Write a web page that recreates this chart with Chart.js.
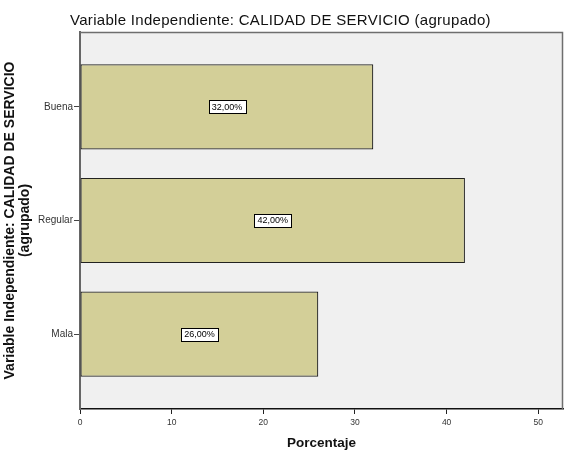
<!DOCTYPE html>
<html>
<head>
<meta charset="utf-8">
<script src="https://cdn.jsdelivr.net/npm/chart.js@4/dist/chart.umd.min.js"></script>
<style>
html,body{margin:0;padding:0;background:#fff;}
#wrap{width:572px;height:460px;position:relative;}
</style>
</head>
<body>
<div id="wrap"><canvas id="c" width="572" height="460"></canvas></div>
<script>
const chartTitle = 'Variable Independiente: CALIDAD DE SERVICIO (agrupado)';
const categories = ['Mala', 'Regular', 'Buena'];
const percentages = [26, 42, 32];
const xTicks = [0, 10, 20, 30, 40, 50];
const yTitleLines = ['Variable Independiente: CALIDAD DE SERVICIO', '(agrupado)'];
const xTitle = 'Porcentaje';

const FONT = "'Liberation Sans', Arial, sans-serif";

const points = percentages.map((v, i) => ({x: v, y: i}));

const bgPlugin = {
  id: 'bgPlugin',
  beforeDraw(chart) {
    const {ctx, chartArea: a} = chart;
    ctx.save();
    ctx.fillStyle = '#f0f0f0';
    ctx.fillRect(a.left, a.top, a.right - a.left, a.bottom - a.top);
    ctx.restore();
  },
  afterDraw(chart) {
    const {ctx, chartArea: a} = chart;
    ctx.save();
    ctx.strokeStyle = '#6e6e6e';
    ctx.lineWidth = 1.5;
    ctx.beginPath();
    ctx.moveTo(a.left, a.top + 0.5);
    ctx.lineTo(a.right - 0.5, a.top + 0.5);
    ctx.lineTo(a.right - 0.5, a.bottom);
    ctx.stroke();
    // main title
    ctx.fillStyle = '#111';
    ctx.font = '15px ' + FONT;
    if ('letterSpacing' in ctx) ctx.letterSpacing = '0.3px';
    ctx.textBaseline = 'alphabetic';
    ctx.textAlign = 'left';
    ctx.fillText(chartTitle, 70, 25);
    ctx.restore();
  }
};

const labelPlugin = {
  id: 'labelPlugin',
  afterDatasetsDraw(chart) {
    const {ctx} = chart;
    const meta = chart.getDatasetMeta(0);
    ctx.save();
    ctx.font = '9px ' + FONT;
    ctx.textAlign = 'center';
    ctx.textBaseline = 'middle';
    meta.data.forEach((bar, i) => {
      const txt = percentages[i].toFixed(2).replace('.', ',') + '%';
      const cx = (bar.base + bar.x) / 2;
      const cy = bar.y;
      const w = ctx.measureText(txt).width + 6;
      const h = 13;
      ctx.fillStyle = '#ffffff';
      ctx.fillRect(Math.round(cx - w / 2) + 0.5, Math.round(cy - h / 2) + 0.5, Math.round(w), h);
      ctx.strokeStyle = '#000';
      ctx.lineWidth = 1;
      ctx.strokeRect(Math.round(cx - w / 2) + 0.5, Math.round(cy - h / 2) + 0.5, Math.round(w), h);
      ctx.fillStyle = '#000';
      ctx.fillText(txt, cx, cy + 0.5);
    });
    ctx.restore();
  }
};

new Chart(document.getElementById('c'), {
  type: 'bar',
  data: {
    datasets: [{
      data: points,
      backgroundColor: '#d3cf98',
      borderColor: '#222220',
      borderWidth: 1.2,
      borderSkipped: false,
      barPercentage: 1,
      categoryPercentage: 0.75
    }]
  },
  options: {
    indexAxis: 'y',
    responsive: false,
    animation: false,
    devicePixelRatio: 1,
    layout: {padding: {top: 32, right: 9, bottom: 0, left: 0}},
    plugins: {legend: {display: false}, tooltip: {enabled: false}, title: {display: false}},
    scales: {
      x: {
        type: 'linear',
        min: 0,
        max: 52.7,
        offset: false,
        afterBuildTicks(scale) { scale.ticks = xTicks.map(v => ({value: v})); },
        afterFit(scale) { scale.height = 51; },
        ticks: {font: {size: 8.5, family: FONT}, color: '#333', padding: 4, maxRotation: 0},
        grid: {drawOnChartArea: false, drawTicks: true, tickLength: 5, color: '#222', lineWidth: 1, offset: false},
        border: {display: true, color: '#111', width: 1.5},
        title: {display: true, text: xTitle, color: '#111', font: {size: 13.5, weight: 'bold', family: FONT}, padding: {top: 0, bottom: 9}}
      },
      y: {
        type: 'linear',
        min: -0.66,
        max: 2.66,
        offset: false,
        afterBuildTicks(scale) { scale.ticks = categories.map((c, i) => ({value: i})); },
        afterFit(scale) { scale.width = 80; },
        ticks: {
          font: {size: 10, family: FONT}, color: '#333', padding: 1,
          callback: (v) => categories[v]
        },
        grid: {drawOnChartArea: false, drawTicks: true, tickLength: 6, color: '#444', lineWidth: 1, offset: false},
        border: {display: true, color: '#666', width: 2},
        title: {display: true, text: yTitleLines, color: '#111', font: {size: 14, weight: 'bold', family: FONT, lineHeight: 1.07}, padding: {top: 3, bottom: 0}}
      }
    }
  },
  plugins: [bgPlugin, labelPlugin]
});
</script>
</body>
</html>
